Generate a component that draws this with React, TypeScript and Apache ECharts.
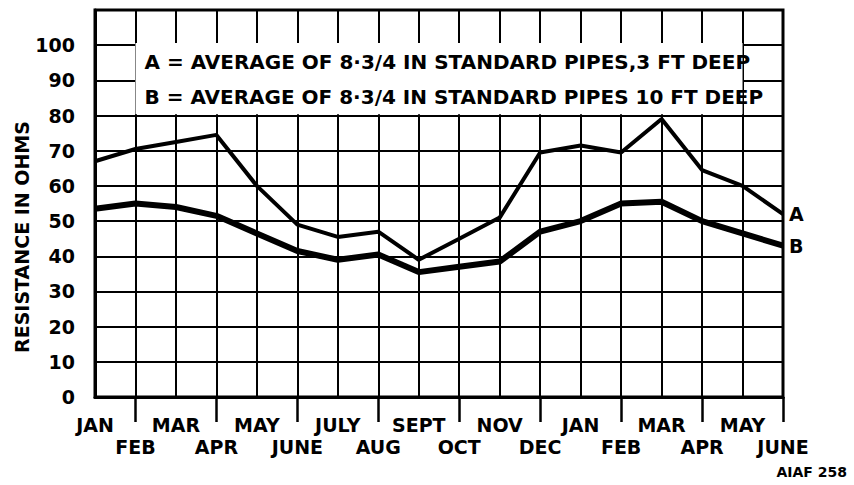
import React, { useEffect, useRef } from "react";
import * as echarts from "echarts";

const months = ["JAN", "FEB", "MAR", "APR", "MAY", "JUNE", "JULY", "AUG", "SEPT", "OCT", "NOV", "DEC", "JAN", "FEB", "MAR", "APR", "MAY", "JUNE"];
const seriesA = [67, 70.5, 72.5, 74.5, 60, 49, 45.5, 47, 39, 45, 51, 69.5, 71.5, 69.5, 79, 64.5, 60, 52];
const seriesB = [53.5, 55, 54, 51.5, 46.5, 41.5, 39, 40.5, 35.5, 37, 38.5, 47, 50, 55, 55.5, 50, 46.5, 43];
const legendLines = [
  "A = AVERAGE OF 8·3/4 IN STANDARD PIPES,3 FT DEEP",
  "B = AVERAGE OF 8·3/4 IN STANDARD PIPES 10 FT DEEP",
];
const yAxisName = "RESISTANCE IN OHMS";
const figureId = "AIAF 258";

const FONT = "DejaVu Sans";

export default function App() {
  const ref = useRef<HTMLDivElement>(null);
  useEffect(() => {
    if (!ref.current) return;
    const chart = echarts.init(ref.current, undefined, { renderer: "svg" });
    const option: any = {
      animation: false,
      backgroundColor: "#fff",
      textStyle: { fontFamily: FONT, color: "#000" },
      grid: {
        left: 95,
        right: 71,
        top: 10,
        bottom: 88,
        show: true,
        borderColor: "#000",
        borderWidth: 3,
        backgroundColor: "transparent",
      },
      xAxis: {
        type: "category",
        boundaryGap: false,
        data: months.map((_, i) => String(i)),
        axisLine: { show: true, lineStyle: { color: "#000", width: 3 } },
        axisTick: {
          show: true,
          interval: (index: number) => index % 2 === 1,
          length: 25,
          lineStyle: { color: "#000", width: 2.5 },
        },
        splitLine: { show: true, interval: 0, lineStyle: { color: "#000", width: 2 } },
        axisLabel: {
          interval: 0,
          margin: 17,
          fontSize: 19,
          fontWeight: "bold",
          lineHeight: 22,
          color: "#000",
          fontFamily: FONT,
          formatter: (_v: string, idx: number) => (idx % 2 === 1 ? "\n" + months[idx] : months[idx]),
        },
      },
      yAxis: {
        type: "value",
        min: 0,
        max: 110,
        interval: 10,
        axisLine: { show: true, lineStyle: { color: "#000", width: 3 } },
        axisTick: { show: false },
        splitLine: { show: true, lineStyle: { color: "#000", width: 2 } },
        axisLabel: {
          margin: 20,
          fontSize: 19,
          fontWeight: "bold",
          color: "#000",
          fontFamily: FONT,
          formatter: (v: number) => (v > 100 ? "" : String(v)),
        },
      },
      series: [
        {
          name: "A",
          type: "line",
          data: seriesA,
          symbol: "none",
          z: 5,
          lineStyle: { color: "#000", width: 4 },
          endLabel: { show: true, formatter: "A", fontSize: 19, fontWeight: "bold", color: "#000", fontFamily: FONT, distance: 6 },
        },
        {
          name: "B",
          type: "line",
          data: seriesB,
          symbol: "none",
          z: 5,
          lineStyle: { color: "#000", width: 6 },
          endLabel: { show: true, formatter: "B", fontSize: 19, fontWeight: "bold", color: "#000", fontFamily: FONT, distance: 6 },
        },
      ],
    };
    chart.setOption(option);

    const tl = chart.convertToPixel({ gridIndex: 0 }, [1.12, 100.6]) as number[];
    const br = chart.convertToPixel({ gridIndex: 0 }, [16.42, 80.4]) as number[];
    chart.setOption({
      graphic: [
        {
          type: "rect",
          z: 3,
          shape: { x: tl[0], y: tl[1], width: br[0] - tl[0], height: br[1] - tl[1] },
          style: { fill: "#fff" },
        },
        {
          type: "text",
          z: 4,
          x: tl[0] + 9,
          y: tl[1] + 19,
          style: { text: legendLines[0], fontSize: 20, fontWeight: "bold", fontFamily: FONT, fill: "#000", verticalAlign: "middle" },
        },
        {
          type: "text",
          z: 4,
          x: tl[0] + 9,
          y: tl[1] + 54,
          style: { text: legendLines[1], fontSize: 20, fontWeight: "bold", fontFamily: FONT, fill: "#000", verticalAlign: "middle" },
        },
        {
          type: "text",
          x: 22,
          y: 237,
          rotation: Math.PI / 2,
          style: { text: yAxisName, fontSize: 19, fontWeight: "bold", fontFamily: FONT, fill: "#000", align: "center", verticalAlign: "middle" },
        },
        {
          type: "text",
          x: 847,
          y: 472,
          style: { text: figureId, fontSize: 14, fontWeight: "bold", fontFamily: FONT, fill: "#000", align: "right", verticalAlign: "middle" },
        },
      ],
    });
    return () => chart.dispose();
  }, []);
  return <div ref={ref} style={{ width: 854, height: 485, position: "absolute", left: 0, top: 0 }} />;
}
